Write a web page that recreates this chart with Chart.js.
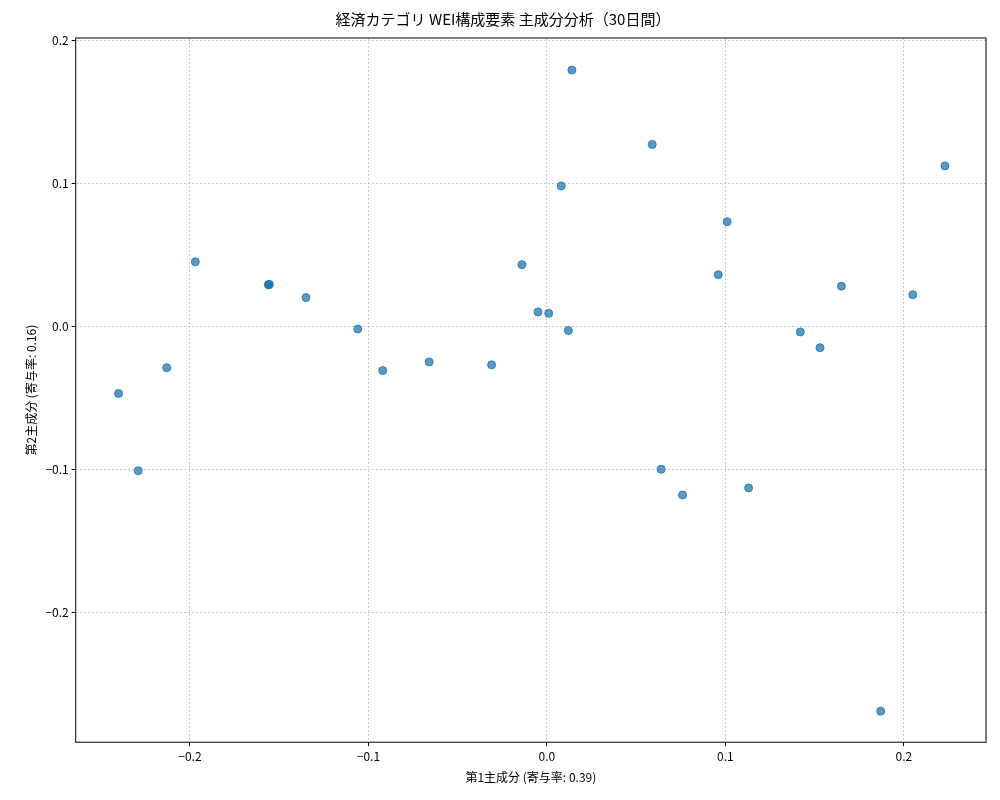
<!DOCTYPE html>
<html>
<head>
<meta charset="utf-8">
<script src="https://cdn.jsdelivr.net/npm/chart.js@4.4.0/dist/chart.umd.min.js"></script>
<style>
  body { margin: 0; background: #fff; }
</style>
</head>
<body>
<canvas id="myChart" width="1000" height="800"></canvas>
<script>
  var pc1 = [0.014, 0.059, 0.223, 0.008, 0.101, -0.197, -0.014, -0.156, -0.156, -0.135,
             0.096, 0.165, 0.205, -0.005, 0.001, -0.106, 0.012, 0.142, 0.153, -0.213,
             -0.092, -0.066, -0.031, -0.240, -0.229, 0.064, 0.076, 0.113, 0.187, -0.1555];
  var pc2 = [0.179, 0.127, 0.112, 0.098, 0.073, 0.045, 0.043, 0.029, 0.029, 0.020,
             0.036, 0.028, 0.022, 0.010, 0.009, -0.002, -0.003, -0.004, -0.015, -0.029,
             -0.031, -0.025, -0.027, -0.047, -0.101, -0.100, -0.118, -0.113, -0.269, 0.0292];
  var xTicks = [-0.2, -0.1, 0.0, 0.1, 0.2];
  var yTicks = [-0.2, -0.1, 0.0, 0.1, 0.2];

  var points = [];
  for (var i = 0; i < pc1.length; i++) points.push({ x: pc1[i], y: pc2[i] });

  var font = "'Noto Sans CJK JP', 'DejaVu Sans', sans-serif";
  var grid = { color: 'rgba(176,176,176,0.7)', drawTicks: true, tickColor: '#000', tickLength: 4 };
  var border = { display: false, dash: [2, 2] };

  new Chart(document.getElementById('myChart'), {
    type: 'scatter',
    data: { datasets: [{
      data: points,
      backgroundColor: 'rgba(31,119,180,0.75)',
      borderColor: 'rgba(31,119,180,0.85)',
      pointRadius: 4,
      pointHoverRadius: 4
    }] },
    options: {
      responsive: false,
      animation: false,
      layout: { padding: { left: 20, right: 14, top: 6, bottom: 11 } },
      plugins: {
        legend: { display: false },
        tooltip: { enabled: false },
        title: { display: true, text: '経済カテゴリ WEI構成要素 主成分分析（30日間）', color: '#000',
                 font: { family: font, size: 15, weight: 'normal' }, padding: { top: 4, bottom: 10 } }
      },
      scales: {
        x: {
          type: 'linear', min: -0.264, max: 0.246,
          afterBuildTicks: function (ax) { ax.ticks = xTicks.map(function (v) { return { value: v }; }); },
          ticks: { color: '#000', font: { family: font, size: 12 },
                   callback: function (v) { return v.toFixed(1).replace('-', '\u2212'); } },
          grid: grid,
          border: border,
          title: { display: true, text: '第1主成分 (寄与率: 0.39)', color: '#000', font: { family: font, size: 12 } }
        },
        y: {
          type: 'linear', min: -0.2907, max: 0.2014,
          afterBuildTicks: function (ax) { ax.ticks = yTicks.map(function (v) { return { value: v }; }); },
          ticks: { color: '#000', font: { family: font, size: 12 },
                   callback: function (v) { return v.toFixed(1).replace('-', '\u2212'); } },
          grid: grid,
          border: border,
          title: { display: true, text: '第2主成分 (寄与率: 0.16)', color: '#000', font: { family: font, size: 12 } }
        }
      }
    },
    plugins: [{
      id: 'frame',
      afterDraw: function (c) {
        var a = c.chartArea, ctx = c.ctx;
        ctx.save(); ctx.strokeStyle = '#000'; ctx.lineWidth = 1;
        ctx.strokeRect(a.left, a.top, a.right - a.left, a.bottom - a.top);
        ctx.restore();
      }
    }]
  });
</script>
</body>
</html>
